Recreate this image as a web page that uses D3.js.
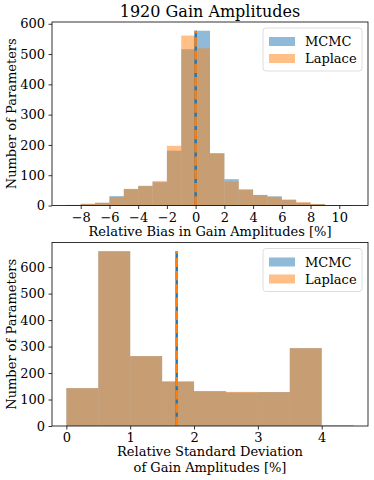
<!DOCTYPE html>
<html>
<head>
<meta charset="utf-8">
<script src="https://cdn.jsdelivr.net/npm/d3@7"></script>
<style>
  html, body { margin: 0; padding: 0; background: #fff; }
  svg { display: block; }
  text { font-family: "DejaVu Serif", serif; fill: #000; }
</style>
</head>
<body>
<svg id="chart" width="374" height="480"></svg>
<script>
// ---- Data ----
const titleText = "1920 Gain Amplitudes";
const seriesNames = ["MCMC", "Laplace"];

// Panel 1: relative bias histogram, bins of width 1 from -9 to 11
const biasEdges = [-9, -8, -7, -6, -5, -4, -3, -2, -1, 0, 1, 2, 3, 4, 5, 6, 7, 8, 9, 10, 11];
const biasMCMC    = [2, 5, 9, 31, 54, 65, 77, 181, 516, 577, 172, 87, 53, 35, 30, 19, 9, 5, 1, 1];
const biasLaplace = [0, 6, 9, 28, 55, 64, 81, 197, 561, 519, 173, 79, 52, 34, 29, 19, 11, 5, 1, 0];
const biasMeanMCMC = 0.0;
const biasMeanLaplace = 0.0;
const biasXTicks = [-8, -6, -4, -2, 0, 2, 4, 6, 8, 10];
const biasYTicks = [0, 100, 200, 300, 400, 500, 600];
const biasXLabel = ["Relative Bias in Gain Amplitudes [%]"];

// Panel 2: relative standard deviation histogram, bins of width 0.5 from 0 to 4.5
const stdEdges = [0, 0.5, 1, 1.5, 2, 2.5, 3, 3.5, 4, 4.5];
const stdMCMC    = [143, 660, 264, 168, 132, 127, 128, 294, 2];
const stdLaplace = [143, 660, 264, 168, 130, 129, 128, 294, 1];
const stdMeanMCMC = 1.728;
const stdMeanLaplace = 1.728;
const stdXTicks = [0, 1, 2, 3, 4];
const stdYTicks = [0, 100, 200, 300, 400, 500, 600];
const stdXLabel = ["Relative Standard Deviation", "of Gain Amplitudes [%]"];

const yLabel = "Number of Parameters";

// ---- Styles ----
const blue = "#1f77b4", orange = "#ff7f0e";
const fontSize = 13;

const svg = d3.select("#chart");

svg.append("text")
  .attr("x", 210).attr("y", 17)
  .attr("text-anchor", "middle")
  .style("font-size", "16px")
  .text(titleText);

function panel(opts) {
  const { left, right, top, bottom, edges, s1, s2, m1, m2, xTicks, yTicks, xLabel } = opts;
  const xmin = edges[0], xmax = edges[edges.length - 1];
  const pad = (xmax - xmin) * 0.05;
  const x = d3.scaleLinear().domain([xmin - pad, xmax + pad]).range([left, right]);
  const ymaxData = d3.max(s1.concat(s2));
  const y = d3.scaleLinear().domain([0, ymaxData * 1.05]).range([bottom, top]);
  const g = svg.append("g");

  const mk = (arr) => arr.map((v, i) => ({ x0: edges[i], x1: edges[i + 1], v }));
  [[s1, blue], [s2, orange]].forEach(([arr, col]) => {
    g.append("g").selectAll("rect").data(mk(arr)).join("rect")
      .attr("x", d => x(d.x0))
      .attr("width", d => x(d.x1) - x(d.x0))
      .attr("y", d => y(d.v))
      .attr("height", d => y(0) - y(d.v))
      .attr("fill", col)
      .attr("fill-opacity", 0.5);
  });

  // mean lines
  g.append("line")
    .attr("x1", x(m1)).attr("x2", x(m1))
    .attr("y1", y(0)).attr("y2", y(ymaxData))
    .attr("stroke", blue).attr("stroke-width", 2.5);
  g.append("line")
    .attr("x1", x(m2)).attr("x2", x(m2))
    .attr("y1", y(0)).attr("y2", y(ymaxData))
    .attr("stroke", orange).attr("stroke-width", 2.5)
    .attr("stroke-dasharray", "9.25,4");

  // axes
  const fmt = d => (d < 0 ? "\u2212" + Math.abs(d) : String(d));
  const xa = g.append("g").attr("transform", `translate(0,${bottom})`)
    .call(d3.axisBottom(x).tickValues(xTicks).tickFormat(fmt).tickSize(3.5).tickPadding(3.5));
  const ya = g.append("g").attr("transform", `translate(${left},0)`)
    .call(d3.axisLeft(y).tickValues(yTicks).tickSize(3.5).tickPadding(3.5));
  [xa, ya].forEach(a => {
    a.select(".domain").remove();
    a.selectAll("line").attr("stroke", "#000").attr("stroke-width", 0.8);
    a.selectAll("text").style("font-family", "DejaVu Serif, serif").style("font-size", fontSize + "px");
  });

  // frame
  g.append("rect")
    .attr("x", left).attr("y", top)
    .attr("width", right - left).attr("height", bottom - top)
    .attr("fill", "none").attr("stroke", "#000").attr("stroke-width", 0.8);

  // x label
  xLabel.forEach((t, i) => {
    g.append("text")
      .attr("x", (left + right) / 2).attr("y", bottom + 30 + i * 16)
      .attr("text-anchor", "middle")
      .style("font-size", fontSize + "px")
      .text(t);
  });
  // y label
  g.append("text")
    .attr("transform", `translate(16,${(top + bottom) / 2}) rotate(-90)`)
    .attr("text-anchor", "middle")
    .style("font-size", fontSize + "px")
    .text(yLabel);

  // legend
  const lx = right - 105, ly = top + 6;
  const leg = g.append("g");
  leg.append("rect")
    .attr("x", lx).attr("y", ly).attr("width", 99).attr("height", 43)
    .attr("rx", 3).attr("fill", "#fff").attr("fill-opacity", 0.8)
    .attr("stroke", "#d6d6d6").attr("stroke-width", 0.8);
  [blue, orange].forEach((col, i) => {
    leg.append("rect")
      .attr("x", lx + 6).attr("y", ly + 9 + i * 17)
      .attr("width", 26).attr("height", 9)
      .attr("fill", col).attr("fill-opacity", 0.5);
    leg.append("text")
      .attr("x", lx + 42).attr("y", ly + 18 + i * 17)
      .style("font-size", fontSize + "px")
      .text(seriesNames[i]);
  });
}

panel({ left: 52, right: 368, top: 22, bottom: 205.5,
  edges: biasEdges, s1: biasMCMC, s2: biasLaplace, m1: biasMeanMCMC, m2: biasMeanLaplace,
  xTicks: biasXTicks, yTicks: biasYTicks, xLabel: biasXLabel });

panel({ left: 52, right: 368, top: 242.5, bottom: 426,
  edges: stdEdges, s1: stdMCMC, s2: stdLaplace, m1: stdMeanMCMC, m2: stdMeanLaplace,
  xTicks: stdXTicks, yTicks: stdYTicks, xLabel: stdXLabel });
</script>
</body>
</html>
